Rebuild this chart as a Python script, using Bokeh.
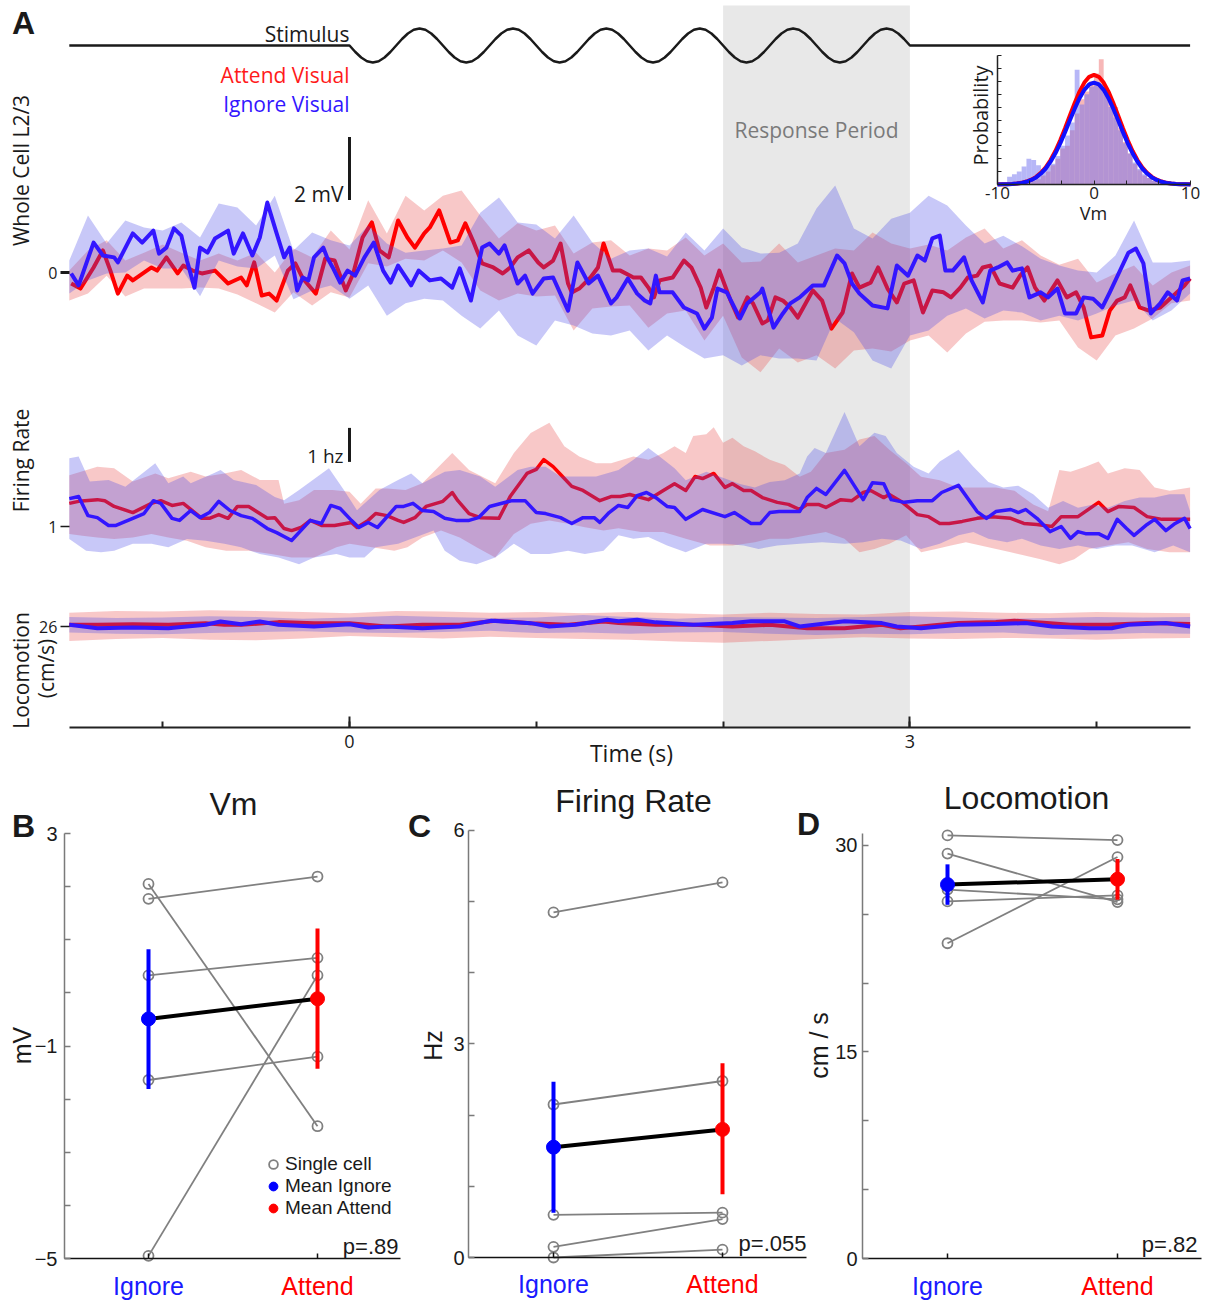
import numpy as np
from bokeh.plotting import figure
from bokeh.models import Range1d, FixedTicker, BoxAnnotation, Label, LinearAxis
from bokeh.embed import file_html
from bokeh.resources import INLINE

# ---------------------------------------------------------------- data
time_ticks = [-1, 0, 1, 2, 3, 4]
time_tick_text = {-1: "", 0: "0", 1: "", 2: "", 3: "3", 4: ""}
time_span = [-1.5, 4.5]
response_period = [2.0, 3.0]

# drifting grating schematic: one cycle (16 samples), 2 Hz, shown 0..3 s
stim_cycle = [0.0, -0.383, -0.707, -0.924, -1.0, -0.924, -0.707, -0.383,
              0.0, 0.383, 0.707, 0.924, 1.0, 0.924, 0.707, 0.383]
stim_n_cycles = 6
stim_cycle_dur = 0.5

# Vm mean traces (time s, mV)
vm_attend = [(-1.49,-0.35),(-1.44,-0.51),(-1.37,0.16),(-1.32,0.70),(-1.28,0.06),(-1.24,-0.67),(-1.19,-0.10),(-1.16,-0.25),(-1.06,0.16),(-1.03,0.06),(-0.98,0.48),(-0.92,-0.03),(-0.89,0.22),(-0.84,0.06),(-0.79,-0.03),(-0.72,0.06),(-0.65,-0.35),(-0.58,-0.16),(-0.55,-0.41),(-0.51,0.32),(-0.47,-0.73),(-0.43,-0.67),(-0.39,-0.89),(-0.33,0.06),(-0.29,0.29),(-0.25,-0.19),(-0.18,-0.67),(-0.13,0.44),(-0.08,0.38),(-0.02,-0.57),(0.02,-0.03),(0.07,1.11),(0.12,1.59),(0.16,0.70),(0.21,0.48),(0.26,1.65),(0.31,1.11),(0.35,0.79),(0.40,1.24),(0.43,1.43),(0.48,1.97),(0.54,0.95),(0.58,1.02),(0.62,1.56),(0.66,1.02),(0.71,0.29),(0.77,0.16),(0.82,-0.03),(0.86,0.16),(0.90,0.48),(0.96,0.70),(1.01,0.32),(1.04,0.16),(1.09,0.38),(1.13,0.92),(1.17,-0.35),(1.19,-0.63),(1.23,-0.51),(1.29,-0.16),(1.33,0.16),(1.36,0.92),(1.41,0.06),(1.45,0.06),(1.52,-0.16),(1.56,-0.16),(1.60,-0.48),(1.63,-0.79),(1.66,-0.25),(1.73,-0.16),(1.79,0.38),(1.83,0.16),(1.88,-0.48),(1.91,-1.11),(1.95,-0.48),(1.98,0.06),(2.04,-0.89),(2.08,-1.43),(2.13,-0.79),(2.16,-0.98),(2.21,-1.62),(2.24,-1.52),(2.28,-0.79),(2.32,-0.89),(2.36,-1.11),(2.40,-1.43),(2.48,-0.57),(2.53,-0.89),(2.58,-1.78),(2.64,-1.27),(2.69,-0.03),(2.73,-0.48),(2.79,-0.32),(2.83,0.16),(2.88,-0.51),(2.93,-0.95),(2.97,-0.35),(3.02,-0.25),(3.07,-1.27),(3.12,-0.57),(3.18,-0.63),(3.22,-0.79),(3.27,-0.48),(3.31,-0.16),(3.36,-0.10),(3.39,0.16),(3.43,0.22),(3.48,-0.35),(3.55,-0.48),(3.59,-0.10),(3.63,0.16),(3.67,-0.48),(3.72,-0.89),(3.79,-0.25),(3.84,-0.79),(3.89,-0.63),(3.93,-1.11),(3.97,-2.06),(4.03,-2.00),(4.07,-1.21),(4.11,-0.89),(4.15,-0.79),(4.18,-0.41),(4.23,-1.11),(4.28,-1.21),(4.34,-1.11),(4.37,-0.95),(4.43,-0.63),(4.47,-0.41),(4.50,-0.19)]
vm_ignore = [(-1.49,-0.03),(-1.45,-0.41),(-1.37,0.95),(-1.32,0.54),(-1.26,0.48),(-1.24,0.32),(-1.16,1.24),(-1.11,0.95),(-1.05,1.33),(-1.02,0.60),(-0.98,0.79),(-0.94,1.40),(-0.90,1.17),(-0.87,0.38),(-0.83,-0.48),(-0.80,0.79),(-0.76,0.63),(-0.72,1.08),(-0.65,1.33),(-0.62,0.60),(-0.57,1.24),(-0.52,0.54),(-0.48,1.11),(-0.44,2.22),(-0.39,1.24),(-0.35,0.48),(-0.32,0.79),(-0.28,-0.57),(-0.25,-0.16),(-0.22,-0.25),(-0.19,0.48),(-0.14,0.79),(-0.12,0.48),(-0.09,0.16),(-0.05,-0.32),(-0.01,0.06),(0.03,-0.10),(0.08,0.48),(0.13,0.95),(0.18,0.06),(0.22,-0.32),(0.26,0.22),(0.33,-0.41),(0.37,0.06),(0.43,-0.25),(0.49,-0.19),(0.55,-0.48),(0.59,0.13),(0.65,-0.89),(0.71,0.79),(0.75,0.92),(0.80,0.60),(0.83,0.86),(0.90,-0.35),(0.94,-0.10),(0.98,-0.67),(1.04,-0.19),(1.09,-0.16),(1.17,-1.21),(1.22,0.32),(1.28,-0.35),(1.33,-0.10),(1.40,-0.98),(1.43,-0.79),(1.49,-0.19),(1.54,-0.67),(1.58,-0.89),(1.61,-0.98),(1.64,-0.10),(1.66,-0.63),(1.73,-0.63),(1.79,-1.11),(1.86,-1.30),(1.90,-1.78),(1.94,-1.43),(1.97,-0.51),(2.02,-0.63),(2.09,-1.46),(2.13,-0.98),(2.20,-0.63),(2.21,-0.51),(2.27,-1.75),(2.32,-1.30),(2.36,-0.98),(2.41,-0.79),(2.48,-0.41),(2.54,-0.41),(2.61,0.54),(2.65,0.29),(2.69,-0.35),(2.73,-0.67),(2.80,-1.05),(2.88,-1.14),(2.93,0.22),(2.99,-0.10),(3.04,0.54),(3.08,0.38),(3.12,1.08),(3.16,1.17),(3.19,0.06),(3.23,0.06),(3.29,0.48),(3.33,-0.25),(3.39,-0.95),(3.43,0.06),(3.47,0.16),(3.52,0.32),(3.55,0.06),(3.60,0.13),(3.64,-0.79),(3.70,-0.63),(3.74,-0.79),(3.79,-0.51),(3.83,-1.30),(3.89,-1.30),(3.93,-0.79),(3.98,-0.83),(4.03,-1.11),(4.07,-0.63),(4.12,0.00),(4.17,0.63),(4.21,0.76),(4.25,0.29),(4.29,-1.30),(4.34,-0.98),(4.38,-0.63),(4.43,-0.89),(4.46,-0.25),(4.50,-0.19)]

# Vm error bands, sampled every 0.1 s from -1.5 to 4.5 s (mV)
vm_band_t = [round(-1.5 + 0.1 * k, 2) for k in range(61)]
vm_attend_hi = [0.06,0.70,1.02,0.38,0.63,0.89,0.63,0.38,0.60,0.38,0.63,0.00,0.76,0.48,1.33,0.73,2.29,1.24,2.44,1.97,2.44,2.60,1.81,1.08,1.56,1.33,1.49,0.60,0.95,1.02,0.54,0.76,0.70,1.11,0.54,0.92,0.32,0.35,0.92,0.32,0.54,0.76,0.70,1.27,0.92,0.76,0.89,0.70,1.11,1.40,0.76,1.02,0.54,0.25,0.44,-0.32,-0.03,0.22,-0.41,0.00,0.22]
vm_attend_lo = [-0.89,-0.67,-0.10,-0.76,-0.51,-0.51,-0.51,-0.48,-0.51,-0.70,-0.98,-1.27,-0.63,-1.05,-0.63,-0.79,0.29,0.19,0.44,0.38,0.70,0.32,-0.57,-0.89,-0.67,-0.76,-0.73,-1.84,-1.14,-1.08,-1.05,-1.75,-1.30,-1.21,-2.16,-1.37,-2.70,-3.17,-2.41,-2.86,-2.63,-3.05,-2.48,-2.41,-2.51,-2.16,-2.00,-2.54,-1.94,-1.56,-1.52,-1.52,-1.59,-1.52,-2.38,-2.79,-2.00,-1.78,-1.46,-0.98,-0.89]
vm_ignore_hi = [0.38,1.81,0.92,1.65,1.43,1.33,1.59,1.11,2.19,2.06,1.49,2.44,0.70,1.27,1.02,0.86,1.49,0.92,0.63,0.70,0.76,0.86,1.90,2.38,1.59,1.52,1.08,1.81,0.95,0.44,0.70,0.76,0.51,1.27,0.70,1.40,0.79,0.60,0.63,0.92,2.03,2.76,1.40,1.08,1.71,1.90,2.44,2.13,1.49,0.92,1.17,0.83,0.44,0.22,0.06,0.00,0.54,1.65,0.32,0.32,0.38]
vm_ignore_lo = [-0.67,-0.25,-0.03,0.00,0.38,0.13,0.13,-0.75,0.38,0.19,0.13,0.54,-0.85,-0.57,-0.41,-0.83,-0.41,-1.37,-0.98,-0.83,-0.89,-1.37,-1.78,-1.21,-2.00,-2.32,-1.52,-1.68,-1.94,-2.00,-1.84,-2.48,-2.00,-2.38,-2.73,-2.63,-2.95,-2.63,-2.73,-2.73,-2.79,-1.46,-1.90,-2.79,-3.05,-2.00,-1.84,-1.37,-1.14,-1.46,-1.21,-1.27,-1.52,-1.37,-1.52,-1.30,-1.05,-0.89,-1.52,-1.21,-0.67]

# firing-rate mean traces (time s, Hz)
fr_attend = [(-1.50,1.68),(-1.45,1.74),(-1.35,1.79),(-1.31,1.76),(-1.26,1.59),(-1.16,1.41),(-1.06,1.68),(-1.01,1.76),(-0.95,1.62),(-0.89,1.68),(-0.79,1.24),(-0.75,1.24),(-0.70,1.35),(-0.65,1.24),(-0.60,1.59),(-0.54,1.59),(-0.44,1.24),(-0.40,1.26),(-0.35,0.94),(-0.31,0.88),(-0.26,0.97),(-0.21,1.18),(-0.15,1.03),(-0.08,1.03),(0.01,1.12),(0.04,0.97),(0.10,1.18),(0.14,1.38),(0.20,1.32),(0.26,1.18),(0.29,1.12),(0.35,1.26),(0.41,1.59),(0.50,1.74),(0.55,2.00),(0.58,1.76),(0.64,1.38),(0.70,1.26),(0.80,1.24),(0.86,1.88),(0.95,2.56),(1.00,2.68),(1.04,2.97),(1.09,2.76),(1.13,2.53),(1.19,2.18),(1.25,2.06),(1.34,1.76),(1.40,1.88),(1.45,1.88),(1.50,1.94),(1.60,1.79),(1.68,2.06),(1.74,2.26),(1.80,2.06),(1.85,2.47),(1.89,2.41),(1.95,2.56),(2.01,2.15),(2.05,2.26),(2.11,2.06),(2.15,2.06),(2.21,1.85),(2.29,1.71),(2.35,1.65),(2.41,1.50),(2.45,1.65),(2.51,1.65),(2.55,1.56),(2.63,1.79),(2.69,1.76),(2.75,2.00),(2.79,2.06),(2.86,1.85),(2.89,1.94),(2.96,1.71),(3.04,1.35),(3.10,1.29),(3.16,1.09),(3.21,1.09),(3.28,1.15),(3.36,1.24),(3.44,1.29),(3.54,1.24),(3.61,1.09),(3.68,1.06),(3.76,1.00),(3.81,1.29),(3.90,1.29),(4.01,1.71),(4.06,1.44),(4.12,1.59),(4.20,1.56),(4.27,1.29),(4.35,1.21),(4.43,1.21),(4.50,1.21)]
fr_ignore = [(-1.50,1.82),(-1.45,1.88),(-1.40,1.32),(-1.35,1.26),(-1.29,1.03),(-1.25,1.03),(-1.16,1.24),(-1.10,1.38),(-1.05,1.76),(-1.01,1.68),(-0.95,1.24),(-0.91,1.18),(-0.85,1.47),(-0.80,1.26),(-0.75,1.41),(-0.70,1.74),(-0.64,1.47),(-0.58,1.32),(-0.52,1.24),(-0.44,0.94),(-0.39,0.82),(-0.31,0.59),(-0.21,1.18),(-0.15,1.09),(-0.10,1.62),(-0.05,1.53),(0.01,1.18),(0.05,0.97),(0.10,1.12),(0.15,0.97),(0.25,1.59),(0.29,1.59),(0.34,1.68),(0.39,1.47),(0.45,1.44),(0.51,1.24),(0.57,1.18),(0.64,1.18),(0.69,1.26),(0.75,1.59),(0.87,1.76),(0.94,1.76),(1.00,1.41),(1.05,1.38),(1.13,1.26),(1.19,1.09),(1.25,1.26),(1.31,1.26),(1.34,1.12),(1.39,1.41),(1.44,1.62),(1.49,1.56),(1.54,1.91),(1.59,2.00),(1.64,1.85),(1.70,1.59),(1.74,1.56),(1.80,1.21),(1.89,1.50),(2.01,1.29),(2.06,1.41),(2.15,1.09),(2.20,1.09),(2.25,1.41),(2.30,1.44),(2.37,1.44),(2.41,1.44),(2.45,1.85),(2.50,2.12),(2.55,1.94),(2.65,2.65),(2.75,1.79),(2.80,2.29),(2.86,2.26),(2.90,1.79),(2.97,1.71),(3.04,1.76),(3.12,1.76),(3.17,2.00),(3.26,2.21),(3.36,1.44),(3.41,1.24),(3.46,1.44),(3.54,1.50),(3.58,1.41),(3.62,1.50),(3.68,1.24),(3.75,0.85),(3.81,1.00),(3.86,0.65),(3.90,0.85),(3.94,0.79),(4.01,0.79),(4.06,0.65),(4.11,1.21),(4.16,0.94),(4.20,0.74),(4.27,1.06),(4.31,1.21),(4.37,0.88),(4.42,1.09),(4.47,1.24),(4.50,0.94)]

# firing-rate error band edges (time s, Hz)
fr_attend_hi = [(-1.50,2.51),(-1.35,2.76),(-1.26,2.71),(-1.16,2.32),(-1.04,2.56),(-0.97,2.42),(-0.85,2.61),(-0.77,2.47),(-0.67,2.56),(-0.58,2.66),(-0.48,2.37),(-0.38,2.37),(-0.35,1.67),(-0.27,1.77),(-0.19,2.07),(-0.09,2.07),(0.00,2.02),(0.06,1.67),(0.14,2.12),(0.20,2.12),(0.30,2.07),(0.39,2.27),(0.55,3.16),(0.64,2.66),(0.78,2.27),(0.88,3.16),(0.97,3.75),(1.07,4.05),(1.15,3.36),(1.23,3.06),(1.32,2.86),(1.40,2.86),(1.52,3.06),(1.60,2.96),(1.68,3.16),(1.74,3.36),(1.80,3.16),(1.84,3.66),(1.91,3.71),(1.95,3.92),(2.00,3.46),(2.05,3.61),(2.11,3.36),(2.17,3.21),(2.25,2.96),(2.33,2.81),(2.41,2.46),(2.47,2.61),(2.55,3.16),(2.65,3.26),(2.73,3.56),(2.81,3.66),(2.89,3.26),(2.98,2.86),(3.06,2.46),(3.16,2.36),(3.26,2.15),(3.36,2.15),(3.46,2.15),(3.56,2.05),(3.66,1.65),(3.74,1.45),(3.80,2.66),(3.86,2.61),(3.94,2.76),(4.01,2.91),(4.06,2.56),(4.15,2.71),(4.23,2.66),(4.31,2.15),(4.39,2.05),(4.50,2.15)]
fr_attend_lo = [(-1.50,0.78),(-1.43,0.73),(-1.35,0.68),(-1.26,0.63),(-1.16,0.68),(-1.06,0.78),(-0.97,0.68),(-0.87,0.58),(-0.77,0.39),(-0.66,0.29),(-0.54,0.29),(-0.42,0.19),(-0.31,0.09),(-0.19,0.09),(-0.07,0.39),(0.00,0.49),(0.12,0.39),(0.24,0.29),(0.31,0.39),(0.39,0.68),(0.49,0.88),(0.59,0.68),(0.68,0.39),(0.78,0.09),(0.88,0.78),(0.97,1.08),(1.07,1.18),(1.17,1.08),(1.26,0.98),(1.36,0.88),(1.44,0.95),(1.56,0.84),(1.68,0.84),(1.80,0.64),(1.93,0.44),(2.05,0.44),(2.17,0.54),(2.25,0.64),(2.35,0.64),(2.45,0.74),(2.55,0.84),(2.65,0.64),(2.73,0.24),(2.81,0.34),(2.89,0.49),(2.98,0.74),(3.06,0.24),(3.14,0.34),(3.22,0.44),(3.30,0.54),(3.42,0.39),(3.54,0.24),(3.62,0.14),(3.70,0.04),(3.80,-0.11),(3.88,0.04),(3.96,0.34),(4.06,0.44),(4.17,0.54),(4.27,0.34),(4.39,0.24),(4.50,0.24)]
fr_ignore_hi = [(-1.50,3.01),(-1.45,3.06),(-1.39,2.32),(-1.29,2.37),(-1.20,2.17),(-1.04,2.86),(-0.97,2.27),(-0.89,2.47),(-0.85,2.27),(-0.73,2.56),(-0.69,2.66),(-0.62,2.37),(-0.50,2.22),(-0.40,1.87),(-0.35,1.77),(-0.27,2.07),(-0.11,2.71),(-0.03,2.07),(0.04,1.48),(0.16,2.07),(0.26,2.37),(0.33,2.56),(0.39,2.27),(0.51,2.61),(0.59,2.66),(0.70,2.47),(0.78,2.17),(0.90,2.66),(0.97,2.76),(1.05,2.76),(1.13,2.47),(1.23,2.47),(1.32,2.47),(1.44,2.66),(1.52,2.96),(1.60,3.31),(1.66,3.06),(1.74,2.71),(1.80,2.36),(1.91,2.61),(2.01,2.41),(2.09,2.25),(2.17,2.15),(2.25,2.31),(2.33,2.36),(2.41,2.56),(2.45,3.06),(2.49,3.31),(2.55,3.16),(2.65,4.37),(2.73,3.36),(2.81,3.76),(2.87,3.66),(2.93,3.16),(3.02,2.76),(3.10,2.56),(3.16,2.91),(3.26,3.26),(3.34,2.76),(3.42,2.31),(3.50,2.15),(3.58,2.20),(3.66,1.95),(3.74,1.55),(3.82,1.75),(3.90,1.55),(3.98,1.65),(4.06,1.55),(4.15,1.75),(4.23,1.85),(4.31,1.85),(4.39,1.95),(4.47,1.95),(4.50,1.45)]
fr_ignore_lo = [(-1.50,0.63),(-1.41,0.29),(-1.33,0.24),(-1.26,0.29),(-1.16,0.49),(-1.06,0.49),(-0.97,0.39),(-0.87,0.63),(-0.77,0.58),(-0.67,0.49),(-0.58,0.39),(-0.48,0.19),(-0.38,0.09),(-0.27,-0.11),(-0.19,0.09),(-0.07,0.19),(0.00,0.09),(0.08,0.09),(0.14,0.39),(0.26,0.49),(0.35,0.68),(0.45,0.88),(0.51,0.29),(0.59,-0.01),(0.68,-0.11),(0.78,0.09),(0.88,0.49),(0.97,0.19),(1.07,0.19),(1.17,0.29),(1.26,0.19),(1.36,0.29),(1.44,0.74),(1.52,0.64),(1.60,0.69),(1.70,0.44),(1.80,0.24),(1.91,0.49),(2.01,0.49),(2.11,0.44),(2.19,0.34),(2.29,0.44),(2.41,0.49),(2.53,0.54),(2.65,0.49),(2.75,0.54),(2.85,0.64),(2.95,0.59),(3.06,0.34),(3.16,0.49),(3.26,0.74),(3.34,0.84),(3.42,0.64),(3.52,0.54),(3.60,0.64),(3.70,0.44),(3.80,0.34),(3.90,0.44),(4.00,0.34),(4.10,0.44),(4.19,0.44),(4.31,0.24),(4.41,0.44),(4.50,0.24)]

# locomotion mean traces (time s, cm/s) and bands every 0.25 s
loco_attend = [(-1.50,26.28),(-1.35,26.28),(-1.16,26.39),(-0.97,26.28),(-0.77,26.56),(-0.67,26.28),(-0.58,26.28),(-0.38,26.73),(-0.19,26.56),(0.00,26.56),(0.20,26.00),(0.39,26.28),(0.59,26.28),(0.78,26.96),(0.97,26.56),(1.17,26.28),(1.36,26.84),(1.44,26.57),(1.64,26.29),(1.84,26.29),(2.05,26.00),(2.25,26.29),(2.45,25.71),(2.65,25.71),(2.85,26.29),(2.95,25.71),(3.06,26.00),(3.26,26.57),(3.46,26.74),(3.56,26.97),(3.66,26.74),(3.86,26.29),(4.06,26.29),(4.27,26.57),(4.50,26.40)]
loco_ignore = [(-1.50,26.28),(-1.35,25.72),(-1.16,25.83),(-0.97,25.72),(-0.77,26.28),(-0.69,26.84),(-0.58,26.39),(-0.48,26.84),(-0.38,26.28),(-0.19,26.00),(0.00,26.39),(0.10,25.83),(0.20,26.00),(0.39,25.72),(0.59,26.00),(0.76,26.96),(0.97,26.56),(1.07,26.00),(1.21,26.28),(1.38,27.12),(1.44,26.86),(1.54,27.14),(1.64,26.69),(1.84,26.29),(2.05,26.57),(2.15,26.86),(2.33,26.86),(2.41,26.00),(2.65,26.86),(2.85,26.57),(2.93,26.00),(3.06,25.71),(3.26,26.29),(3.46,26.40),(3.62,26.57),(3.76,26.00),(3.96,25.71),(4.08,25.71),(4.17,26.29),(4.37,26.57),(4.50,26.00)]
loco_band_t = [round(-1.5 + 0.25 * k, 2) for k in range(25)]
loco_attend_hi = [28.3,28.6,28.5,28.7,28.6,28.4,28.2,28.6,28.5,28.3,28.4,28.2,28.4,28.2,28.0,28.3,28.1,28.0,28.4,28.5,28.3,28.2,28.4,28.3,28.2]
loco_attend_lo = [23.6,23.9,24.1,23.8,23.7,24.0,24.4,24.2,24.0,24.3,24.1,23.9,23.8,23.5,23.3,23.6,23.9,24.2,24.0,23.9,24.1,24.0,23.8,24.0,24.1]
loco_ignore_hi = [27.6,27.4,27.5,27.7,27.6,27.3,27.5,27.8,27.6,27.4,27.5,27.9,27.6,27.3,27.6,27.5,27.4,27.6,27.7,27.5,27.3,27.4,27.6,27.5,27.6]
loco_ignore_lo = [25.0,24.8,24.7,24.9,25.1,25.2,25.0,24.9,25.1,25.3,24.9,25.0,24.8,25.0,25.1,24.8,24.6,24.8,24.7,24.9,25.0,24.6,24.7,24.9,24.8]

# inset: Vm distributions (bin edges -10..10 step 0.5) and Gaussian fits
hist_edges = [round(-10 + 0.5 * k, 1) for k in range(41)]
hist_attend = [0,0,0,0.001,0.001,0.002,0.002,0.003,0.004,0.007,0.010,0.015,0.020,0.028,0.030,0.042,0.055,0.066,0.072,0.080,0.086,0.097,0.075,0.066,0.060,0.044,0.033,0.024,0.016,0.011,0.007,0.005,0.003,0.002,0.001,0.001,0,0,0,0]
hist_ignore = [0,0,0.006,0.008,0.010,0.014,0.020,0.019,0.015,0.012,0.014,0.016,0.022,0.030,0.038,0.048,0.089,0.062,0.070,0.076,0.079,0.078,0.070,0.060,0.052,0.042,0.032,0.024,0.017,0.012,0.008,0.005,0.003,0.002,0.001,0.001,0,0,0,0]
fit_x = [round(-10 + 0.5 * k, 1) for k in range(41)]
fit_attend = [0.0001,0.0001,0.0002,0.0004,0.0007,0.0013,0.0023,0.0037,0.0059,0.0091,0.0133,0.0190,0.0260,0.0343,0.0437,0.0536,0.0632,0.0720,0.0790,0.0835,0.0850,0.0835,0.0790,0.0720,0.0632,0.0536,0.0437,0.0343,0.0260,0.0190,0.0133,0.0091,0.0059,0.0037,0.0023,0.0013,0.0007,0.0004,0.0002,0.0001,0.0001]
fit_ignore = [0.0000,0.0001,0.0002,0.0004,0.0007,0.0012,0.0021,0.0035,0.0055,0.0085,0.0124,0.0177,0.0242,0.0319,0.0406,0.0498,0.0588,0.0669,0.0734,0.0776,0.0790,0.0776,0.0734,0.0669,0.0588,0.0498,0.0406,0.0319,0.0242,0.0177,0.0124,0.0085,0.0055,0.0035,0.0021,0.0012,0.0007,0.0004,0.0002,0.0001,0.0000]
inset_xticks = [-10, -6.67, -3.33, 0, 3.33, 6.67, 10]
inset_xtick_text = {-10: "-10", 0: "0", 10: "10"}
inset_yticks = [round(0.01 * k, 2) for k in range(11)]

# scale bars
vm_scale_mv, vm_scale_base = 2.0, 2.3
fr_scale_hz, fr_scale_base = 1.0, 2.9

# panels B-D: conditions, single cells, means with error bars
conditions = ["Ignore", "Attend"]
cond_pos = [1, 2]
vm_cells_ignore = [2.05, 1.77, 0.33, -1.64, -4.95]
vm_cells_attend = [-2.51, 2.19, 0.66, -1.20, 0.33]
vm_mean = [-0.49, -0.11]
vm_err_lo = [-1.81, -1.43]
vm_err_hi = [0.82, 1.21]
fr_cells_ignore = [4.85, 2.15, 0.60, 0.15, 0.00]
fr_cells_attend = [5.27, 2.48, 0.63, 0.54, 0.11]
fr_mean = [1.55, 1.80]
fr_err_lo = [0.63, 0.89]
fr_err_hi = [2.47, 2.73]
lc_cells_ignore = [30.73, 29.41, 26.80, 25.94, 22.90]
lc_cells_attend = [30.39, 25.89, 26.09, 26.38, 29.16]
lc_mean = [27.16, 27.55]
lc_err_lo = [25.69, 26.06]
lc_err_hi = [28.63, 29.02]
p_values = ["p=.89", "p=.055", "p=.82"]

# ---------------------------------------------------------------- styles / geometry
SANS = "Open Sans"
HELV = "Liberation Sans"
RED = "#ff0000"
BLUE = "#3316ff"
MEAN_BLUE = "#0000ff"
RED_BAND = "#e84a4a"
BLUE_BAND = "#4a4ae8"
GRAY_BOX = "#e8e8e8"
CELL_GRAY = "#808080"
INK = "#1a1a1a"
W, H = 1208, 1300

# (value, canvas pixel, pixels per unit) anchoring each scale on the page
GEO_X = {"t": (0.0, 349, 186.8), "ix": (-10.0, 997, 9.65),
         "xb": (1.0, 148, 169.0), "xc": (1.0, 553, 169.0), "xd": (1.0, 947, 170.0)}
GEO_Y = {"vm": (0.0, 272, 31.5), "fr": (1.0, 526, 34.0), "loco": (26.0, 626, 6.0),
         "stim": (0.0, 45, 17.0), "iy": (0.0, 184, 1290.0),
         "yb": (-5.0, 1258, 53.125), "yc": (0.0, 1257, 71.17), "yd": (0.0, 1258, 13.767)}


def X(name, px):
    v0, p0, k = GEO_X[name]
    return v0 + (px - p0) / k


def Y(name, py):
    v0, p0, k = GEO_Y[name]
    return v0 + (p0 - py) / k


def xrange_of(name):
    return Range1d(X(name, 0), X(name, W))


def yrange_of(name):
    return Range1d(Y(name, H), Y(name, 0))


def rn(xn="t", yn="vm"):
    kw = {}
    if xn != "t":
        kw["x_range_name"] = xn
    if yn != "vm":
        kw["y_range_name"] = yn
    return kw


def unzip(pts):
    return [a for a, _ in pts], [b for _, b in pts]


p = figure(width=W, height=H, x_range=xrange_of("t"), y_range=yrange_of("vm"),
           min_border=0, x_axis_location=None, y_axis_location=None,
           output_backend="svg", toolbar_location=None)
p.extra_x_ranges = {n: xrange_of(n) for n in GEO_X if n != "t"}
p.extra_y_ranges = {n: yrange_of(n) for n in GEO_Y if n != "vm"}
p.outline_line_color = None
p.grid.visible = False


def txt(px, py, text, size, color=INK, font=SANS, align="center", baseline="middle",
        angle=0.0, style="normal"):
    p.add_layout(Label(x=X("t", px), y=Y("vm", py), text=text, text_font=font,
                       text_font_size=f"{size}px", text_color=color, text_align=align,
                       text_baseline=baseline, angle=angle, text_font_style=style))


def style_axis(ax, tick_in, tick_out, tick_w, color, label_size, font, standoff, line=True, line_w=1.5):
    ax.axis_line_color = color if line else None
    ax.axis_line_width = line_w
    ax.major_tick_in = tick_in
    ax.major_tick_out = tick_out
    ax.major_tick_line_width = tick_w
    ax.major_tick_line_color = color
    ax.minor_tick_line_color = None
    ax.major_label_text_font = font
    ax.major_label_text_font_size = f"{label_size}px"
    ax.major_label_text_color = INK
    ax.major_label_standoff = standoff


# ---------------------------------------------------------------- panel A
p.add_layout(BoxAnnotation(left=response_period[0], right=response_period[1],
                           top=Y("vm", 5), bottom=Y("vm", 727), fill_color=GRAY_BOX,
                           fill_alpha=1.0, line_color=None, level="underlay"))


def bands_and_lines(yn, att, att_band, ign, ign_band, lw):
    for mean, band, band_c, line_c in ((att, att_band, RED_BAND, RED),
                                       (ign, ign_band, BLUE_BAND, BLUE)):
        if len(band) == 3:
            t_band, hi, lo = band
            p.varea(x=t_band, y1=lo, y2=hi, fill_color=band_c, fill_alpha=0.3, **rn("t", yn))
        else:
            ht, hv = unzip(band[0])
            lt, lv = unzip(band[1])
            p.patch(ht + lt[::-1], hv + lv[::-1], fill_color=band_c, fill_alpha=0.3,
                    line_color=None, **rn("t", yn))
        mt, mv = unzip(mean)
        p.line(mt, mv, line_color=line_c, line_width=lw, line_join="round", **rn("t", yn))


bands_and_lines("vm", vm_attend, (vm_band_t, vm_attend_hi, vm_attend_lo),
                vm_ignore, (vm_band_t, vm_ignore_hi, vm_ignore_lo), 4)
bands_and_lines("fr", fr_attend, (fr_attend_hi, fr_attend_lo),
                fr_ignore, (fr_ignore_hi, fr_ignore_lo), 3.5)
bands_and_lines("loco", loco_attend, (loco_band_t, loco_attend_hi, loco_attend_lo),
                loco_ignore, (loco_band_t, loco_ignore_hi, loco_ignore_lo), 4)

stim_t = ([time_span[0]] + [k * stim_cycle_dur / len(stim_cycle)
                            for k in range(len(stim_cycle) * stim_n_cycles)]
          + [stim_n_cycles * stim_cycle_dur, time_span[1]])
stim_y = [0.0] + stim_cycle * stim_n_cycles + [0.0, 0.0]
p.line(stim_t, stim_y, line_color=INK, line_width=2.5, **rn("t", "stim"))

p.segment(x0=[0], y0=[vm_scale_base], x1=[0], y1=[vm_scale_base + vm_scale_mv],
          line_color=INK, line_width=3)
p.segment(x0=[0], y0=[fr_scale_base], x1=[0], y1=[fr_scale_base + fr_scale_hz],
          line_color=INK, line_width=3, **rn("t", "fr"))

# inset histogram + fits
p.quad(left=hist_edges[:-1], right=hist_edges[1:], bottom=0, top=hist_attend,
       fill_color="#f07070", fill_alpha=0.5, line_color=None, **rn("ix", "iy"))
p.quad(left=hist_edges[:-1], right=hist_edges[1:], bottom=0, top=hist_ignore,
       fill_color="#7070f0", fill_alpha=0.5, line_color=None, **rn("ix", "iy"))
p.line(fit_x, fit_attend, line_color=RED, line_width=4, **rn("ix", "iy"))
p.line(fit_x, fit_ignore, line_color="#1010ff", line_width=4, **rn("ix", "iy"))
ax_ix = LinearAxis(x_range_name="ix", y_range_name="iy", fixed_location=0.0,
                   bounds=(-10, 10), ticker=FixedTicker(ticks=inset_xticks),
                   major_label_overrides={k: inset_xtick_text.get(k, "") for k in inset_xticks})
style_axis(ax_ix, 4, 0, 1, "#222222", 17, SANS, 2)
p.add_layout(ax_ix, "below")
ax_iy = LinearAxis(x_range_name="ix", y_range_name="iy", fixed_location=-10.0,
                   bounds=(0, inset_yticks[-1]), ticker=FixedTicker(ticks=inset_yticks),
                   major_label_overrides={k: "" for k in inset_yticks})
style_axis(ax_iy, 4, 0, 1, "#222222", 10, SANS, 0)
p.add_layout(ax_iy, "left")

# time axis and single-tick value axes
ax_t = LinearAxis(y_range_name="loco", fixed_location=Y("loco", 727), bounds=tuple(time_span),
                  ticker=FixedTicker(ticks=time_ticks), major_label_overrides=time_tick_text)
style_axis(ax_t, 6, 0, 2, "#222222", 18, SANS, 7, line_w=2)
p.add_layout(ax_t, "below")
ax_t2 = LinearAxis(y_range_name="loco", fixed_location=Y("loco", 727), bounds=tuple(time_span),
                   ticker=FixedTicker(ticks=[0, 3]), major_label_overrides={0: "", 3: ""})
style_axis(ax_t2, 11, 0, 2, "#222222", 17, SANS, 7, line=False)
p.add_layout(ax_t2, "below")
for yn, tick, tw in (("vm", 0, 3), ("fr", 1, 1.5), ("loco", 26, 1.5)):
    ax = LinearAxis(fixed_location=time_span[0], ticker=FixedTicker(ticks=[tick]), **rn("t", yn))
    style_axis(ax, 0, 9, tw, INK, 16, SANS, 3, line=False)
    p.add_layout(ax, "left")

txt(23, 22, "A", 32, font=HELV, style="bold")
txt(349, 33, "Stimulus", 21, align="right")
txt(349, 74, "Attend Visual", 21, color="#ff1a1a", align="right")
txt(349, 103, "Ignore Visual", 21, color=BLUE, align="right")
txt(816, 129, "Response Period", 21, color="#7a7a7a")
txt(343, 193, "2 mV", 21, align="right")
txt(343, 455, "1 hz", 19, align="right")
txt(20, 170, "Whole Cell L2/3", 21, angle=np.pi / 2)
txt(20, 460, "Firing Rate", 21, angle=np.pi / 2)
txt(20, 670, "Locomotion", 21, angle=np.pi / 2)
txt(45, 668, "(cm/s)", 21, angle=np.pi / 2)
txt(631, 752, "Time (s)", 23)
txt(1093, 212, "Vm", 18)
txt(980, 115, "Probability", 20, angle=np.pi / 2)


# ---------------------------------------------------------------- panels B-D
def stat_panel(xn, yn, ign, att, mean, lo, hi, ticks, tick_text, axis_px, right_px,
               bounds, lab_standoff, legend=False):
    ax_b = LinearAxis(fixed_location=bounds[0], bounds=(X(xn, axis_px), X(xn, right_px)),
                      ticker=FixedTicker(ticks=cond_pos),
                      major_label_overrides={c: "" for c in cond_pos}, **rn(xn, yn))
    style_axis(ax_b, 5, 0, 1.5, "#111111", 10, HELV, 0)
    p.add_layout(ax_b, "below")
    ax_l = LinearAxis(fixed_location=X(xn, axis_px), bounds=bounds,
                      ticker=FixedTicker(ticks=ticks), major_label_overrides=tick_text,
                      **rn(xn, yn))
    style_axis(ax_l, 6, 0, 1.5, "#7a7a7a", 20, HELV, lab_standoff)
    p.add_layout(ax_l, "left")

    kw = rn(xn, yn)
    p.multi_line(xs=[cond_pos] * len(ign), ys=[[a, b] for a, b in zip(ign, att)],
                 line_color=CELL_GRAY, line_width=1.8, **kw)
    lab = {"legend_label": "Single cell"} if legend else {}
    p.scatter(x=[cond_pos[0]] * len(ign) + [cond_pos[1]] * len(att), y=ign + att,
              marker="circle", size=10, fill_color=None, line_color=CELL_GRAY,
              line_width=1.8, **lab, **kw)
    p.segment(x0=[cond_pos[0]], y0=[lo[0]], x1=[cond_pos[0]], y1=[hi[0]],
              line_color=MEAN_BLUE, line_width=4, **kw)
    p.segment(x0=[cond_pos[1]], y0=[lo[1]], x1=[cond_pos[1]], y1=[hi[1]],
              line_color=RED, line_width=4, **kw)
    p.line(cond_pos, mean, line_color="#000000", line_width=4, **kw)
    lab1 = {"legend_label": "Mean Ignore"} if legend else {}
    lab2 = {"legend_label": "Mean Attend"} if legend else {}
    p.scatter(x=[cond_pos[0]], y=[mean[0]], size=14, color=MEAN_BLUE, **lab1, **kw)
    p.scatter(x=[cond_pos[1]], y=[mean[1]], size=14, color=RED, **lab2, **kw)


def minus(k):
    return str(k).replace("-", "\u2212")


stat_panel("xb", "yb", vm_cells_ignore, vm_cells_attend, vm_mean, vm_err_lo, vm_err_hi,
           list(range(-5, 4)), {k: (minus(k) if k in (3, -1, -5) else "") for k in range(-5, 4)},
           64, 400, (-5, 3), 7, legend=True)
stat_panel("xc", "yc", fr_cells_ignore, fr_cells_attend, fr_mean, fr_err_lo, fr_err_hi,
           list(range(0, 7)), {k: (str(k) if k in (0, 3, 6) else "") for k in range(0, 7)},
           468, 806, (0, 6), 4)
stat_panel("xd", "yd", lc_cells_ignore, lc_cells_attend, lc_mean, lc_err_lo, lc_err_hi,
           list(range(0, 31, 5)), {k: (str(k) if k in (0, 15, 30) else "") for k in range(0, 31, 5)},
           862, 1201, (0, 30.9), 5)

lg = p.legend[0]
lg.location = (262, 81)
lg.label_text_font = HELV
lg.label_text_font_size = "19px"
lg.label_text_color = INK
lg.glyph_width = 22
lg.glyph_height = 22
lg.label_height = 22
lg.spacing = 0
lg.padding = 0
lg.margin = 0
lg.label_standoff = 1
lg.border_line_color = None
lg.background_fill_alpha = 0

for letter, lx, ly in (("B", 23, 825), ("C", 419, 825), ("D", 808, 823)):
    txt(lx, ly, letter, 32, font=HELV, style="bold")
for title, tx, ty in (("Vm", 233, 803), ("Firing Rate", 633, 800), ("Locomotion", 1026, 797)):
    txt(tx, ty, title, 32, font=HELV)
for ylab, yx in (("mV", 21), ("Hz", 432), ("cm / s", 818)):
    txt(yx, 1045, ylab, 25, font=HELV, angle=np.pi / 2)
for xn, cy in (("xb", 1285), ("xc", 1283), ("xd", 1285)):
    v0, p0, k = GEO_X[xn]
    txt(p0, cy, conditions[0], 25, color="#1a1aff", font=HELV)
    txt(p0 + k, cy, conditions[1], 25, color=RED, font=HELV)
for pv, px, py in ((p_values[0], 398, 1246), (p_values[1], 806, 1243), (p_values[2], 1197, 1244)):
    txt(px, py, pv, 22, font=HELV, align="right")

open("out.html", "w").write(file_html(p, INLINE))
